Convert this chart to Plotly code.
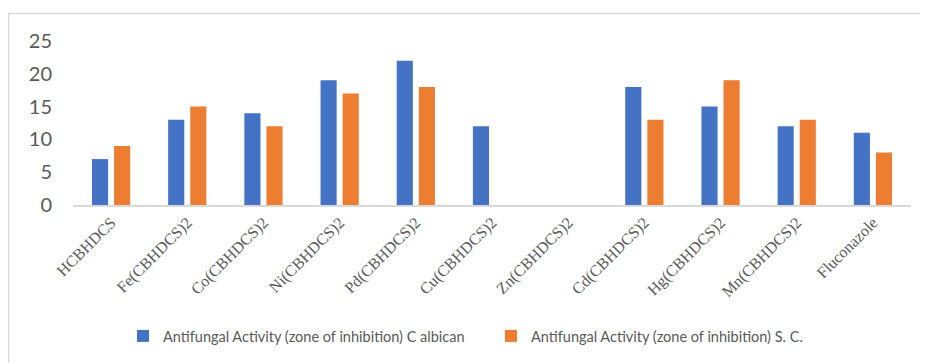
import plotly.graph_objects as go

categories = ["HCBHDCS", "Fe(CBHDCS)2", "Co(CBHDCS)2", "Ni(CBHDCS)2", "Pd(CBHDCS)2",
              "Cu(CBHDCS)2", "Zn(CBHDCS)2", "Cd(CBHDCS)2", "Hg(CBHDCS)2", "Mn(CBHDCS)2",
              "Fluconazole"]
c_albican = [7, 13, 14, 19, 22, 12, 0, 18, 15, 12, 11]
s_c = [9, 15, 12, 17, 18, 0, 0, 13, 19, 13, 8]
series_names = ["Antifungal Activity (zone of inhibition) C albican",
                "Antifungal Activity (zone of inhibition) S. C."]
y_ticks = [0, 5, 10, 15, 20, 25]

OFF = 8  # page body margin
W, H = 928 - OFF, 363 - OFF
L, T = 73 - OFF, 41 - OFF
R = 928 - 911
B = H - (205 - OFF)
pw, ph = W - L - R, H - T - B

fig = go.Figure()
fig.add_trace(go.Bar(x=categories, y=c_albican, name=series_names[0], legend="legend",
                     marker=dict(color="#4472C4", line=dict(width=0))))
fig.add_trace(go.Bar(x=categories, y=s_c, name=series_names[1], legend="legend2",
                     marker=dict(color="#ED7D31", line=dict(width=0))))

def px_x(x):
    return (x - OFF - L) / pw

def px_y(y):
    return (H - B - (y - OFF)) / ph

leg_font = dict(family="Lato, Carlito, Calibri, sans-serif", size=14.5, color="#595959")
leg_common = dict(orientation="h", xanchor="left", y=px_y(336), yanchor="middle",
                  font=leg_font, itemwidth=30, bgcolor="rgba(0,0,0,0)")

fig.update_layout(
    width=W, height=H,
    margin=dict(l=L, r=R, t=T, b=B, autoexpand=False),
    paper_bgcolor="white", plot_bgcolor="white",
    barmode="group", bargap=0.42, bargroupgap=0.27,
    showlegend=True,
    legend=dict(x=px_x(123), **leg_common),
    legend2=dict(x=px_x(491), **leg_common),
    xaxis=dict(tickangle=-45, tickfont=dict(family="Liberation Serif, Times New Roman, serif",
                                           size=16, color="#595959"),
               showline=True, linecolor="#D9D9D9", linewidth=2, ticks="", showgrid=False,
               fixedrange=True),
    yaxis=dict(range=[0, 25], tickvals=y_ticks, showgrid=False, zeroline=False,
               showline=False, ticks="", ticklabelstandoff=20,
               tickfont=dict(family="Lato, Carlito, Calibri, sans-serif", size=20, color="#595959")),
    shapes=[dict(type="rect", xref="paper", yref="paper",
                 x0=px_x(8.5), x1=px_x(928 + 20), y0=px_y(13.5), y1=px_y(363 + 20),
                 line=dict(color="#D9D9D9", width=1.5), fillcolor="rgba(0,0,0,0)", layer="below")],
)

fig.write_html("out.html")
